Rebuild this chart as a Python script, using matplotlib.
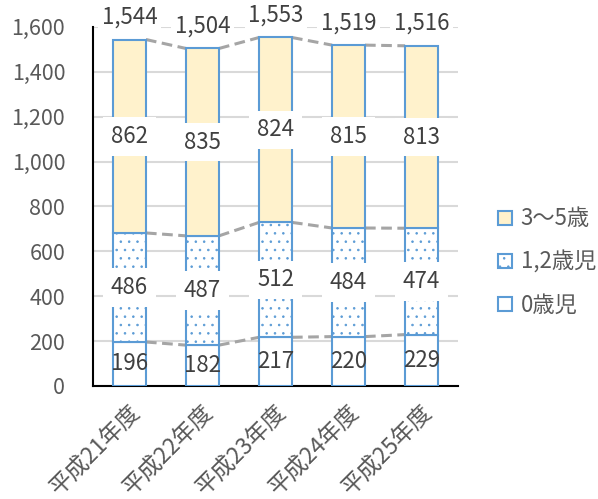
import matplotlib.pyplot as plt
import numpy as np
from matplotlib.ticker import FuncFormatter

plt.rcParams['font.family'] = ['Noto Sans CJK JP', 'DejaVu Sans']
plt.rcParams['hatch.linewidth'] = 0.6

years = ['平成21年度', '平成22年度', '平成23年度', '平成24年度', '平成25年度']
age0 = [196, 182, 217, 220, 229]
age12 = [486, 487, 512, 484, 474]
age35 = [862, 835, 824, 815, 813]

blue = '#5b9bd5'
yellow = '#fff2cc'
txt = '#404040'

fig = plt.figure(figsize=(5.98, 4.99), dpi=100)
ax = fig.add_axes([0.1555, 0.2265, 0.6105, 0.7195])

x = np.arange(len(years))
w = 0.45
lvl1 = np.array(age0)
lvl2 = lvl1 + np.array(age12)
lvl3 = lvl2 + np.array(age35)

b0 = ax.bar(x, age0, w, color='white', edgecolor=blue, lw=1.5, label='0歳児', zorder=3)
b1 = ax.bar(x, age12, w, bottom=lvl1, color='white', edgecolor=blue, hatch='..',
            lw=1.5, label='1,2歳児', zorder=3)
b2 = ax.bar(x, age35, w, bottom=lvl2, color=yellow, edgecolor=blue, lw=1.5,
            label='3〜5歳', zorder=3)

# series lines between bars
for lvl in (lvl1, lvl2, lvl3):
    for i in range(len(x) - 1):
        ax.plot([x[i] + w / 2, x[i + 1] - w / 2], [lvl[i], lvl[i + 1]],
                color='#a5a5a5', lw=2.2, ls=(0, (3.5, 1.8)), zorder=2)

box = dict(boxstyle='square,pad=0.35', fc='white', ec='none')
for i in range(len(x)):
    ax.text(x[i], age0[i] / 2, str(age0[i]), ha='center', va='center',
            fontsize=16, color=txt, zorder=5)
    ax.text(x[i], lvl1[i] + age12[i] / 2, str(age12[i]), ha='center', va='center',
            fontsize=16, color=txt, zorder=5, bbox=box)
    ax.text(x[i], lvl2[i] + age35[i] / 2, str(age35[i]), ha='center', va='center',
            fontsize=16, color=txt, zorder=5, bbox=box)
    ax.annotate(f'{lvl3[i]:,}', (x[i], lvl3[i]), xytext=(0, 16), textcoords='offset points',
                ha='center', va='center', fontsize=16, color=txt, zorder=1.5,
                bbox=dict(boxstyle='square,pad=0.15', fc='white', ec='none'),
                annotation_clip=False)

ax.set_xlim(-0.5, len(x) - 0.5)
ax.set_ylim(0, 1600)
ax.set_yticks(range(0, 1601, 200))
ax.yaxis.set_major_formatter(FuncFormatter(lambda v, p: f'{int(v):,}'))
ax.set_xticks(x)
ax.set_xticklabels(years, rotation=45, ha='right', rotation_mode='anchor')
ax.tick_params(axis='y', length=0, labelsize=15.5, labelcolor='#595959', pad=20)
ax.tick_params(axis='x', length=0, labelsize=16.5, labelcolor='#595959', pad=11)

ax.yaxis.grid(True, color='#d9d9d9', lw=1.5)
ax.set_axisbelow(True)
for s in ('top', 'right'):
    ax.spines[s].set_visible(False)
for s in ('left', 'bottom'):
    ax.spines[s].set_color('black')
    ax.spines[s].set_linewidth(1.5)

ax.legend(handles=[b2, b1, b0], loc='center left', bbox_to_anchor=(0.8, 0.475),
          bbox_transform=fig.transFigure, frameon=False, fontsize=16,
          labelspacing=0.9, handlelength=0.6, handleheight=0.6, handletextpad=0.4,
          labelcolor='#595959')

fig.savefig('out.png', dpi=100)
